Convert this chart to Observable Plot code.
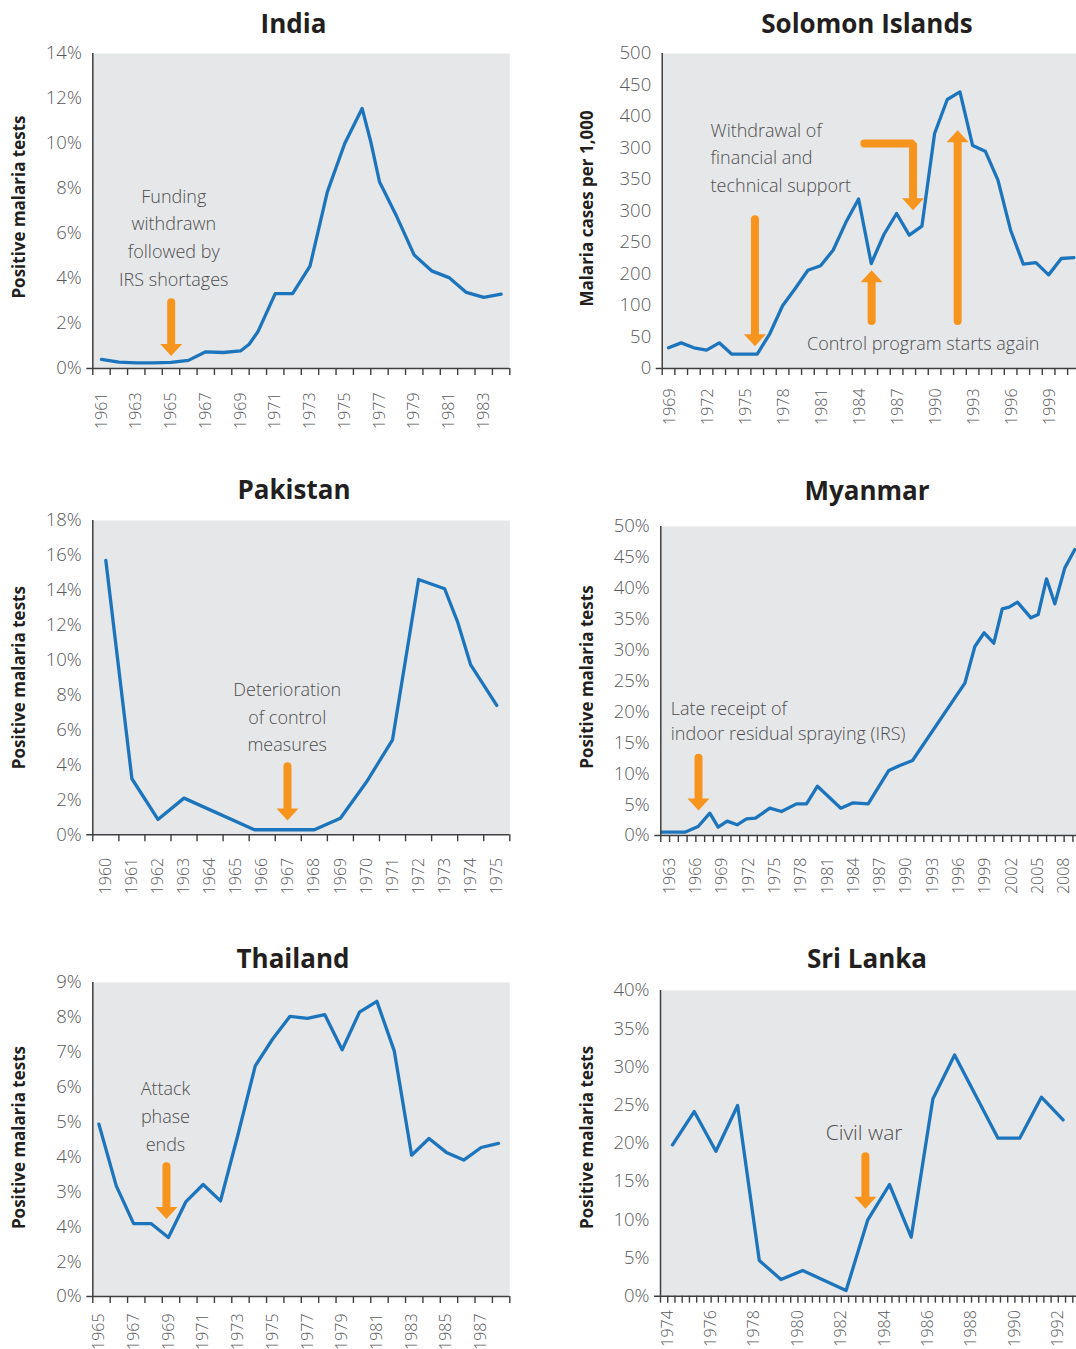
<!DOCTYPE html>
<html>
<head>
<meta charset="utf-8">
<script src="https://cdn.jsdelivr.net/npm/d3@7"></script>
<script src="https://cdn.jsdelivr.net/npm/@observablehq/plot@0.6"></script>
<style>
  body { margin: 0; background: #ffffff; }
  #root { position: relative; width: 1076px; height: 1349px; overflow: hidden; background: #ffffff; }
  .title { position: absolute; width: 400px; text-align: center; font: 700 26px/26px "Open Sans", sans-serif; color: #231f20; white-space: nowrap; }
  .panel { position: absolute; }
</style>
</head>
<body>
<div id="root"></div>
<script>
// ---------------- DATA ----------------
const indiaYears = [1961,1962,1963,1964,1965,1966,1967,1968,1969,1969.5,1970,1971,1972,1973,1974,1975,1976,1976.5,1977,1978,1979,1980,1981,1982,1983,1984];
const indiaRate  = [0.40,0.28,0.25,0.25,0.27,0.36,0.74,0.71,0.78,1.08,1.63,3.33,3.33,4.55,7.85,10.0,11.56,10.07,8.30,6.74,5.04,4.34,4.04,3.38,3.16,3.30];

const solomonYears = [1969,1970,1971,1972,1973,1974,1975,1976,1977,1978,1979,1980,1981,1982,1983,1984,1985,1986,1987,1988,1989,1990,1991,1992,1993,1994,1995,1996,1997,1998,1999,2000,2001];
const solomonCases = [32.8,40.7,32.8,29.1,40.7,22.7,22.7,22.7,55.5,99.5,127,156,163,188,232,269,166.6,212.7,246,211.6,226,373,427,439,354,345,299,219.5,165.6,168,148.6,174.6,176];

const pakistanYears = [1960,1961,1962,1963,1965.7,1968,1969,1970,1971,1972,1973,1973.5,1974,1975];
const pakistanRate  = [15.71,3.21,0.88,2.10,0.29,0.29,0.95,3.02,5.44,14.62,14.09,12.18,9.73,7.41];

const myanmarYears = [1962.08,1964.74,1966.26,1967.59,1968.54,1969.57,1970.71,1971.77,1972.8,1974.43,1975.76,1977.48,1978.62,1979.87,1982.53,1983.94,1985.65,1988.01,1989.26,1990.71,1996.68,1997.82,1998.88,1999.98,2000.94,2001.73,2002.68,2004.21,2005.04,2005.99,2006.94,2008.08,2009.22];
const myanmarRate  = [0.54,0.54,1.46,3.61,1.35,2.32,1.73,2.70,2.80,4.42,3.88,5.12,5.12,7.98,4.42,5.29,5.12,10.52,11.33,12.14,24.65,30.58,32.8,31.12,36.68,36.95,37.76,35.22,35.76,41.53,37.49,43.31,46.28];

const thailandYears = [1965,1966,1967,1968,1969,1970,1971,1972,1973,1974,1975,1976,1977,1978,1979,1980,1981,1982,1983,1984,1985,1986,1987,1988];
const thailandRate  = [4.94,3.17,2.09,2.09,1.69,2.71,3.21,2.74,4.63,6.61,7.38,8.03,7.97,8.08,7.07,8.15,8.46,7.04,4.05,4.53,4.13,3.91,4.27,4.39];

const sriLankaYears = [1974,1975,1976,1977,1978,1979,1980,1982,1983,1984,1985,1986,1987,1989,1990,1991,1992];
const sriLankaRate  = [19.8,24.16,18.97,24.95,4.67,2.18,3.36,0.74,9.99,14.61,7.72,25.82,31.57,20.67,20.67,26.04,23.07];

// tick labels
const indiaYTicks = [0,2,4,6,8,10,12,14];
const indiaYLabels = ["0%","2%","4%","6%","8%","10%","12%","14%"];
const indiaXLabels = [1961,1963,1965,1967,1969,1971,1973,1975,1977,1979,1981,1983];

const solomonYTicks = [0,50,100,150,200,250,300,350,400,450,500];
const solomonYLabels = ["0","50","100","200","250","300","350","300","400","450","500"];
const solomonXLabels = [1969,1972,1975,1978,1981,1984,1987,1990,1993,1996,1999];

const pakistanYTicks = [0,2,4,6,8,10,12,14,16,18];
const pakistanYLabels = ["0%","2%","4%","6%","8%","10%","12%","14%","16%","18%"];
const pakistanXLabels = [1960,1961,1962,1963,1964,1965,1966,1967,1968,1969,1970,1971,1972,1973,1974,1975];

const myanmarYTicks = [0,5,10,15,20,25,30,35,40,45,50];
const myanmarYLabels = ["0%","5%","10%","15%","20%","25%","30%","35%","40%","45%","50%"];
const myanmarXLabels = [1963,1966,1969,1972,1975,1978,1981,1984,1987,1990,1993,1996,1999,2002,2005,2008];

const thailandYTicks = [0,1,2,3,4,5,6,7,8,9];
const thailandYLabels = ["0%","2%","4%","3%","4%","5%","6%","7%","8%","9%"];
const thailandXLabels = [1965,1967,1969,1971,1973,1975,1977,1979,1981,1983,1985,1987];

const sriLankaYTicks = [0,5,10,15,20,25,30,35,40];
const sriLankaYLabels = ["0%","5%","10%","15%","20%","25%","30%","35%","40%"];
const sriLankaXLabels = [1974,1976,1978,1980,1982,1984,1986,1988,1990,1992];

// annotations (data coordinates)
const indiaNotes = [{x: 1965.16, y: 5.78, text: "Funding\nwithdrawn\nfollowed by\nIRS shortages", anchor: "middle", fs: 18, lh: 1.54}];
const indiaArrows = [{x1: 1965.01, y1: 2.94, x2: 1965.01, y2: 0.55}];

const solomonNotes = [
  {x: 1972.32, y: 333.5, text: "Withdrawal of\nfinancial and\ntechnical support", anchor: "start", fs: 18, lh: 1.53},
  {x: 1989.1, y: 38.6, text: "Control program starts again", anchor: "middle", fs: 18, lh: 1}
];
const solomonArrows = [
  {x1: 1975.82, y1: 237, x2: 1975.82, y2: 35.4},
  {x1: 1985.03, y1: 75.2, x2: 1985.03, y2: 156},
  {x1: 1991.82, y1: 75.2, x2: 1991.82, y2: 378}
];
const solomonBentArrow = [{x: 1984.45, y: 357}, {x: 1988.3, y: 357}, {x: 1988.3, y: 270}];
const solomonBentTip = {x: 1988.3, y: 251.3};

const pakistanNotes = [{x: 1966.96, y: 6.69, text: "Deterioration\nof control\nmeasures", anchor: "middle", fs: 18, lh: 1.53}];
const pakistanArrows = [{x1: 1966.97, y1: 3.93, x2: 1966.97, y2: 0.82}];

const myanmarNotes = [{x: 1963.14, y: 18.34, text: "Late receipt of\nindoor residual spraying (IRS)", anchor: "start", fs: 18, lh: 1.39}];
const myanmarArrows = [{x1: 1966.3, y1: 12.57, x2: 1966.3, y2: 4.05}];

const thailandNotes = [{x: 1968.83, y: 5.14, text: "Attack\nphase\nends", anchor: "middle", fs: 18, lh: 1.54}];
const thailandArrows = [{x1: 1968.89, y1: 3.73, x2: 1968.89, y2: 2.22}];

const sriLankaNotes = [{x: 1982.83, y: 21.37, text: "Civil war", anchor: "middle", fs: 21, lh: 1}];
const sriLankaArrows = [{x1: 1982.89, y1: 18.32, x2: 1982.89, y2: 11.43}];

// ---------------- STYLE ----------------
const BLUE = "#1c75bc", ORANGE = "#f7941d", AXIS = "#3f3f41", TICKTEXT = "#58595b", NOTE = "#4d4d4f", BG = "#e6e7e8";
const FONT = '"Open Sans", sans-serif';
const headSymbol = {draw(ctx) { ctx.moveTo(0, 0); ctx.lineTo(-11, -12); ctx.lineTo(11, -12); ctx.closePath(); }};

function annotationMarks(notes, arrows, bent, bentTip) {
  const marks = [];
  for (const n of notes) {
    const multi = n.text.includes("\n");
    marks.push(Plot.text([n], {x: "x", y: "y", text: "text", textAnchor: n.anchor, lineAnchor: "middle",
      lineHeight: n.lh, dy: multi ? -3 : 0, fontSize: n.fs, fontWeight: 300, fill: NOTE, fontFamily: FONT}));
  }
  if (bent) {
    marks.push(Plot.line(bent, {x: "x", y: "y", stroke: ORANGE, strokeWidth: 8, strokeLinecap: "round", strokeLinejoin: "miter"}));
    marks.push(Plot.dot([bentTip], {x: "x", y: "y", symbol: headSymbol, r: 5, fill: ORANGE, stroke: "none"}));
  }
  marks.push(Plot.arrow(arrows, {x1: "x1", y1: "y1", x2: "x2", y2: "y2", stroke: ORANGE, strokeWidth: 8,
    headLength: 0, insetEnd: 10, strokeLinecap: "round"}));
  marks.push(Plot.dot(arrows, {x: "x2", y: "y2", symbol: headSymbol, r: 5, fill: ORANGE, stroke: "none",
    rotate: d => (d.y2 > d.y1 ? 180 : 0)}));
  return marks;
}

function panel(p) {
  const right = p.col === 1;
  const svgLeft = right ? 540 : 0;
  const mt = 15, mb = 62, mr = right ? 10 : 20;
  const ml = p.frameLeft - svgLeft;
  const fw = p.frameRight - p.frameLeft, fh = p.frameBottom - p.frameTop;
  const yLab = new Map(p.yTicks.map((t, i) => [t, p.yLabels[i]]));
  const series = p.years.map((x, i) => ({x, y: p.values[i]}));
  const chart = Plot.plot({
    width: ml + fw + mr,
    height: mt + fh + mb,
    marginLeft: ml, marginRight: mr, marginTop: mt, marginBottom: mb,
    style: {background: "transparent", overflow: "visible", maxWidth: "none", fontFamily: FONT},
    x: {domain: p.xDomain},
    y: {domain: p.yDomain},
    marks: [
      Plot.frame({fill: BG, stroke: null}),
      Plot.line(series, {x: "x", y: "y", stroke: BLUE, strokeWidth: 3.3}),
      ...annotationMarks(p.notes, p.arrows, p.bent, p.bentTip),
      Plot.ruleX([p.xDomain[0]], {stroke: AXIS, strokeWidth: 1.5}),
      Plot.ruleY([p.yDomain[0]], {stroke: AXIS, strokeWidth: 1.5, insetLeft: -6}),
      Plot.axisX({ticks: p.xTickMarks, tickSize: 7, tickFormat: () => "", stroke: AXIS, strokeWidth: 1.4, label: null}),
      Plot.axisX({ticks: p.xLabels, tickSize: 0, tickPadding: p.labPad, tickRotate: -90, tickFormat: d => String(d),
        fontSize: 16, fontWeight: 300, fill: TICKTEXT, dx: p.labDx || 0, label: null}),
      Plot.axisY({ticks: p.yTicks, tickSize: 0, tickPadding: 11, tickFormat: d => yLab.get(d),
        fontSize: 18.5, fontWeight: 300, fill: TICKTEXT, label: null}),
      Plot.text([p.yTitle], {frameAnchor: "left", textAnchor: "middle", rotate: -90, dx: p.yTitleX - p.frameLeft, dy: p.yTitleDy,
        fontSize: 17, fontWeight: 700, fill: "#231f20", fontFamily: FONT})
    ]
  });
  const holder = document.createElement("div");
  holder.className = "panel";
  holder.style.left = svgLeft + "px";
  holder.style.top = (p.frameTop - mt) + "px";
  holder.appendChild(chart);
  root.appendChild(holder);

  const t = document.createElement("div");
  t.className = "title";
  t.textContent = p.title;
  t.style.left = (p.titleX - 200) + "px";
  t.style.top = (p.titleBaseline - 23.1) + "px";
  root.appendChild(t);
}

const root = document.getElementById("root");
const sriStart = 1973.447, sriEnd = 1992.71;

const panels = [
  {title: "India", col: 0, titleX: 293.5, titleBaseline: 33.3,
   frameLeft: 92.3, frameRight: 509.3, frameTop: 53.3, frameBottom: 368.3,
   xDomain: [1960.5, 1984.5], yDomain: [0, 14], years: indiaYears, values: indiaRate,
   yTicks: indiaYTicks, yLabels: indiaYLabels, xLabels: indiaXLabels,
   xTickMarks: d3.range(1960.5, 1984.6, 1), labPad: 24,
   yTitle: "Positive malaria tests", yTitleX: 19, yTitleDy: -4,
   notes: indiaNotes, arrows: indiaArrows},
  {title: "Solomon Islands", col: 1, titleX: 867, titleBaseline: 33.3,
   frameLeft: 661.7, frameRight: 1079.8, frameTop: 53.3, frameBottom: 368.3,
   xDomain: [1968.5, 2001.5], yDomain: [0, 500], years: solomonYears, values: solomonCases,
   yTicks: solomonYTicks, yLabels: solomonYLabels, xLabels: solomonXLabels,
   xTickMarks: d3.range(1968.5, 2001.6, 1), labPad: 20, labDx: 1,
   yTitle: "Malaria cases per 1,000", yTitleX: 587.5, yTitleDy: -2.5,
   notes: solomonNotes, arrows: solomonArrows, bent: solomonBentArrow, bentTip: solomonBentTip},
  {title: "Pakistan", col: 0, titleX: 294, titleBaseline: 499.3,
   frameLeft: 92.3, frameRight: 509.3, frameTop: 520, frameBottom: 834.3,
   xDomain: [1959.5, 1975.5], yDomain: [0, 18], years: pakistanYears, values: pakistanRate,
   yTicks: pakistanYTicks, yLabels: pakistanYLabels, xLabels: pakistanXLabels,
   xTickMarks: d3.range(1959.5, 1975.6, 1), labPad: 23,
   yTitle: "Positive malaria tests", yTitleX: 19, yTitleDy: 0,
   notes: pakistanNotes, arrows: pakistanArrows},
  {title: "Myanmar", col: 1, titleX: 867, titleBaseline: 500.3,
   frameLeft: 660.3, frameRight: 1078, frameTop: 526, frameBottom: 835,
   xDomain: [1962, 2009.64], yDomain: [0, 50], years: myanmarYears, values: myanmarRate,
   yTicks: myanmarYTicks, yLabels: myanmarYLabels, xLabels: myanmarXLabels,
   xTickMarks: d3.range(1962, 2010, 1), labPad: 22,
   yTitle: "Positive malaria tests", yTitleX: 587.5, yTitleDy: -4,
   notes: myanmarNotes, arrows: myanmarArrows},
  {title: "Thailand", col: 0, titleX: 293, titleBaseline: 968.3,
   frameLeft: 92.3, frameRight: 509.3, frameTop: 981.7, frameBottom: 1295.7,
   xDomain: [1964.65, 1988.65], yDomain: [0, 9], years: thailandYears, values: thailandRate,
   yTicks: thailandYTicks, yLabels: thailandYLabels, xLabels: thailandXLabels,
   xTickMarks: d3.range(1964.65, 1988.7, 1), labPad: 17,
   yTitle: "Positive malaria tests", yTitleX: 19, yTitleDy: -2,
   notes: thailandNotes, arrows: thailandArrows},
  {title: "Sri Lanka", col: 1, titleX: 867, titleBaseline: 968.3,
   frameLeft: 660, frameRight: 1078, frameTop: 990, frameBottom: 1295.7,
   xDomain: [sriStart, sriEnd], yDomain: [0, 40], years: sriLankaYears, values: sriLankaRate,
   yTicks: sriLankaYTicks, yLabels: sriLankaYLabels, xLabels: sriLankaXLabels,
   xTickMarks: d3.range(0, 58).map(k => sriStart + k / 3), labPad: 14, labDx: -5,
   yTitle: "Positive malaria tests", yTitleX: 587.5, yTitleDy: -6,
   notes: sriLankaNotes, arrows: sriLankaArrows}
];

panels.forEach(panel);
</script>
</body>
</html>
